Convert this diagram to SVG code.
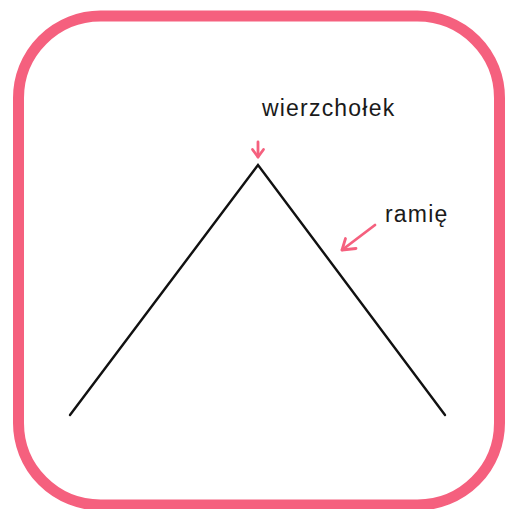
<svg xmlns="http://www.w3.org/2000/svg" width="505" height="509" viewBox="0 0 505 509">
  <style>
    .frame { fill: #ffffff; stroke: #f5607e; stroke-width: 11; }
    .angle { fill: none; stroke: #111111; stroke-width: 2.4; stroke-linecap: round; stroke-linejoin: miter; }
    .pointer { fill: none; stroke: #f5607e; stroke-width: 2.8; stroke-linecap: round; stroke-linejoin: round; }
    .label { font-family: "Liberation Sans", Arial, sans-serif; font-size: 23px; fill: #1a1a1a; letter-spacing: 1.2px; }
  </style>
  <g id="frame">
    <rect class="frame" x="18.5" y="16" width="481" height="489" rx="82" ry="82"/>
  </g>
  <g id="angle">
    <polyline class="angle" points="70,415 258,165 445,415"/>
  </g>
  <g id="label-vertex">
    <text class="label" x="262" y="116">wierzchołek</text>
  </g>
  <g id="label-arm">
    <text class="label" x="385" y="222">ramię</text>
  </g>
  <g id="connectors">
    <path class="pointer" d="M258,142 L258,157"/>
    <path class="pointer" d="M252.5,149.5 L258,157 L263.5,149.5"/>
    <path class="pointer" d="M375,225 L342,250"/>
    <path class="pointer" d="M345.5,238.5 L342,250 L356,248.5"/>
  </g>
</svg>
